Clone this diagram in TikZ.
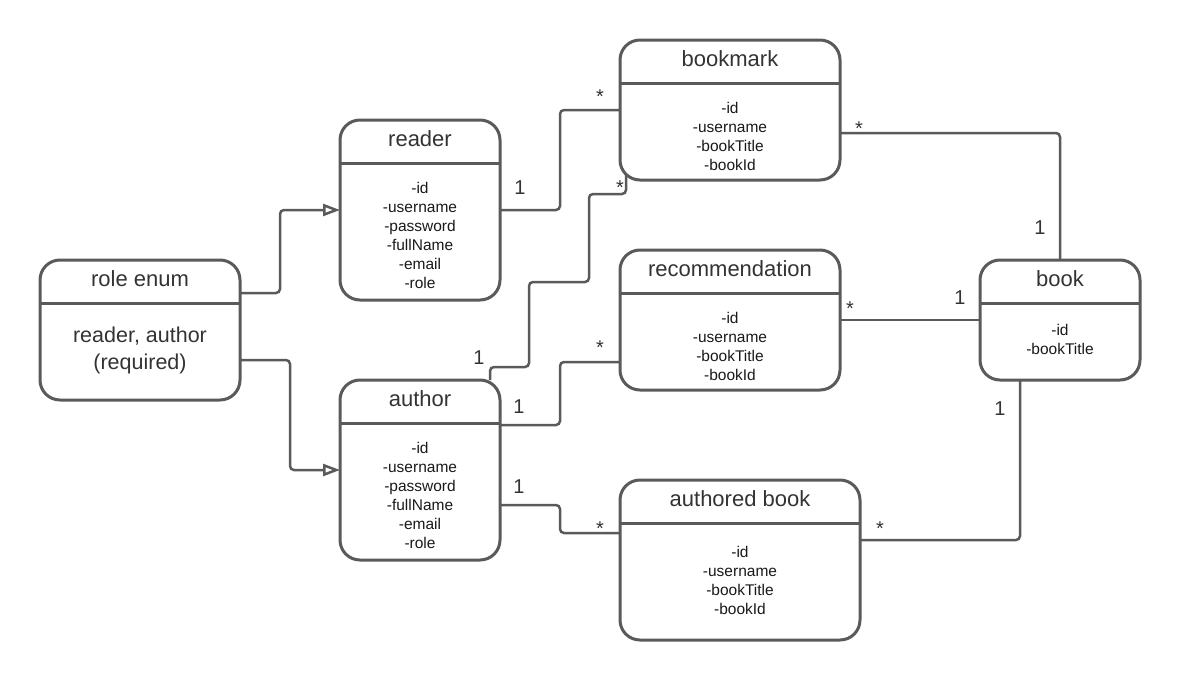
\documentclass[tikz,border=0pt]{standalone}
\usepackage{fontspec}
\setmainfont{Liberation Sans}
\usetikzlibrary{arrows.meta}
\definecolor{linegray}{HTML}{5A5A5A}
\definecolor{textgray}{HTML}{333333}

\begin{document}
\begin{tikzpicture}[x=1pt,y=-1pt,
    entity/.style={draw=linegray,line width=3pt,rounded corners=20pt,outer sep=0pt,inner sep=0pt},
    sep/.style={draw=linegray,line width=3pt},
    title/.style={anchor=base,inner sep=0pt,text=textgray,font=\fontsize{22}{26}\selectfont},
    attrs/.style={anchor=north,inner sep=0pt,align=center,text=black!90,font=\fontsize{15.5}{19}\selectfont},
    conn/.style={draw=linegray,line width=2.5pt,rounded corners=4pt},
    inh/.style={conn,-{Triangle[open,length=17pt,width=12pt]}},
    mult/.style={inner sep=0pt,text=textgray,font=\fontsize{20}{24}\selectfont}]
  \useasboundingbox (0,0) rectangle (1200,680);

  % boxes
  \node[entity,minimum width=200,minimum height=140] (role) at (140,330) {};
  \node[entity,minimum width=160,minimum height=180] (reader) at (420,210) {};
  \node[entity,minimum width=160,minimum height=180] (author) at (420,470) {};
  \node[entity,minimum width=220,minimum height=140] (bookmark) at (730,110) {};
  \node[entity,minimum width=220,minimum height=140] (recommendation) at (730,320) {};
  \node[entity,minimum width=240,minimum height=160] (authored) at (740,560) {};
  \node[entity,minimum width=160,minimum height=120] (book) at (1060,320) {};

  % header lines
  \foreach \b in {role,reader,author,bookmark,recommendation,authored,book}
    \draw[sep] ([shift={(0,43)}]\b.north west) -- ([shift={(0,43)}]\b.north east);

  % titles
  \node[title] at ([shift={(0,26.5)}]role.north) {role enum};
  \node[title] at ([shift={(0,26.5)}]reader.north) {reader};
  \node[title] at ([shift={(0,26.5)}]author.north) {author};
  \node[title] at ([shift={(0,26.5)}]bookmark.north) {bookmark};
  \node[title] at ([shift={(0,26.5)}]recommendation.north) {recommendation};
  \node[title] at ([shift={(0,26.5)}]authored.north) {authored book};
  \node[title] at ([shift={(0,26.5)}]book.north) {book};

  % fields
  \node[attrs,text=textgray,font=\fontsize{21.5}{26.5}\selectfont] at ([shift={(0,67)}]role.north) {reader, author\\(required)};
  \node[attrs] at ([shift={(0,62)}]reader.north) {-id\\-username\\-password\\-fullName\\-email\\-role};
  \node[attrs] at ([shift={(0,62)}]author.north) {-id\\-username\\-password\\-fullName\\-email\\-role};
  \node[attrs] at ([shift={(0,62)}]bookmark.north) {-id\\-username\\-bookTitle\\-bookId};
  \node[attrs] at ([shift={(0,62)}]recommendation.north) {-id\\-username\\-bookTitle\\-bookId};
  \node[attrs] at ([shift={(0,66)}]authored.north) {-id\\-username\\-bookTitle\\-bookId};
  \node[attrs] at ([shift={(0,64)}]book.north) {-id\\-bookTitle};

  % role enum arrows
  \draw[inh] ([shift={(0,-37)}]role.east) -- ++(40,0) |- (reader.west);
  \draw[inh] ([shift={(0,30)}]role.east) -- ++(50,0) |- (author.west);

  % associations
  \draw[conn] (reader.east) -- ++(60,0) |- (bookmark.west);
  \draw[conn] ([shift={(-10,0)}]author.north east) |- ++(39,-13) |- ++(60,-85) |- ++(37,-88)
    -- ([shift={(6,-6)}]bookmark.south west);
  \draw[conn] ([shift={(0,-45)}]author.east) -- ++(60,0) |- ([shift={(0,42)}]recommendation.west);
  \draw[conn] ([shift={(0,35)}]author.east) -- ++(60,0) |- ([shift={(0,-27)}]authored.west);
  \draw[conn] ([shift={(0,23)}]bookmark.east) -| (book.north);
  \draw[conn] (recommendation.east) -- (book.west);
  \draw[conn] ([shift={(0,-20)}]authored.east) -| ([shift={(-40,0)}]book.south);

  % multiplicities
  \node[mult] at ([shift={(20,-22)}]reader.east) {1};
  \node[mult] at ([shift={(-20,-13)}]bookmark.west) {*};
  \node[mult] at ([shift={(-21,-22)}]author.north east) {1};
  \node[mult] at ([shift={(0,8)}]bookmark.south west) {*};
  \node[mult] at ([shift={(19,-63)}]author.east) {1};
  \node[mult] at ([shift={(-20,28)}]recommendation.west) {*};
  \node[mult] at ([shift={(19,17)}]author.east) {1};
  \node[mult] at ([shift={(-20,-31)}]authored.west) {*};
  \node[mult] at ([shift={(19,19)}]bookmark.east) {*};
  \node[mult] at ([shift={(-20,-32)}]book.north) {1};
  \node[mult] at ([shift={(10,-11)}]recommendation.east) {*};
  \node[mult] at ([shift={(-20,-22)}]book.west) {1};
  \node[mult] at ([shift={(20,-31)}]authored.east) {*};
  \node[mult] at ([shift={(-60,29)}]book.south) {1};
\end{tikzpicture}
\end{document}
